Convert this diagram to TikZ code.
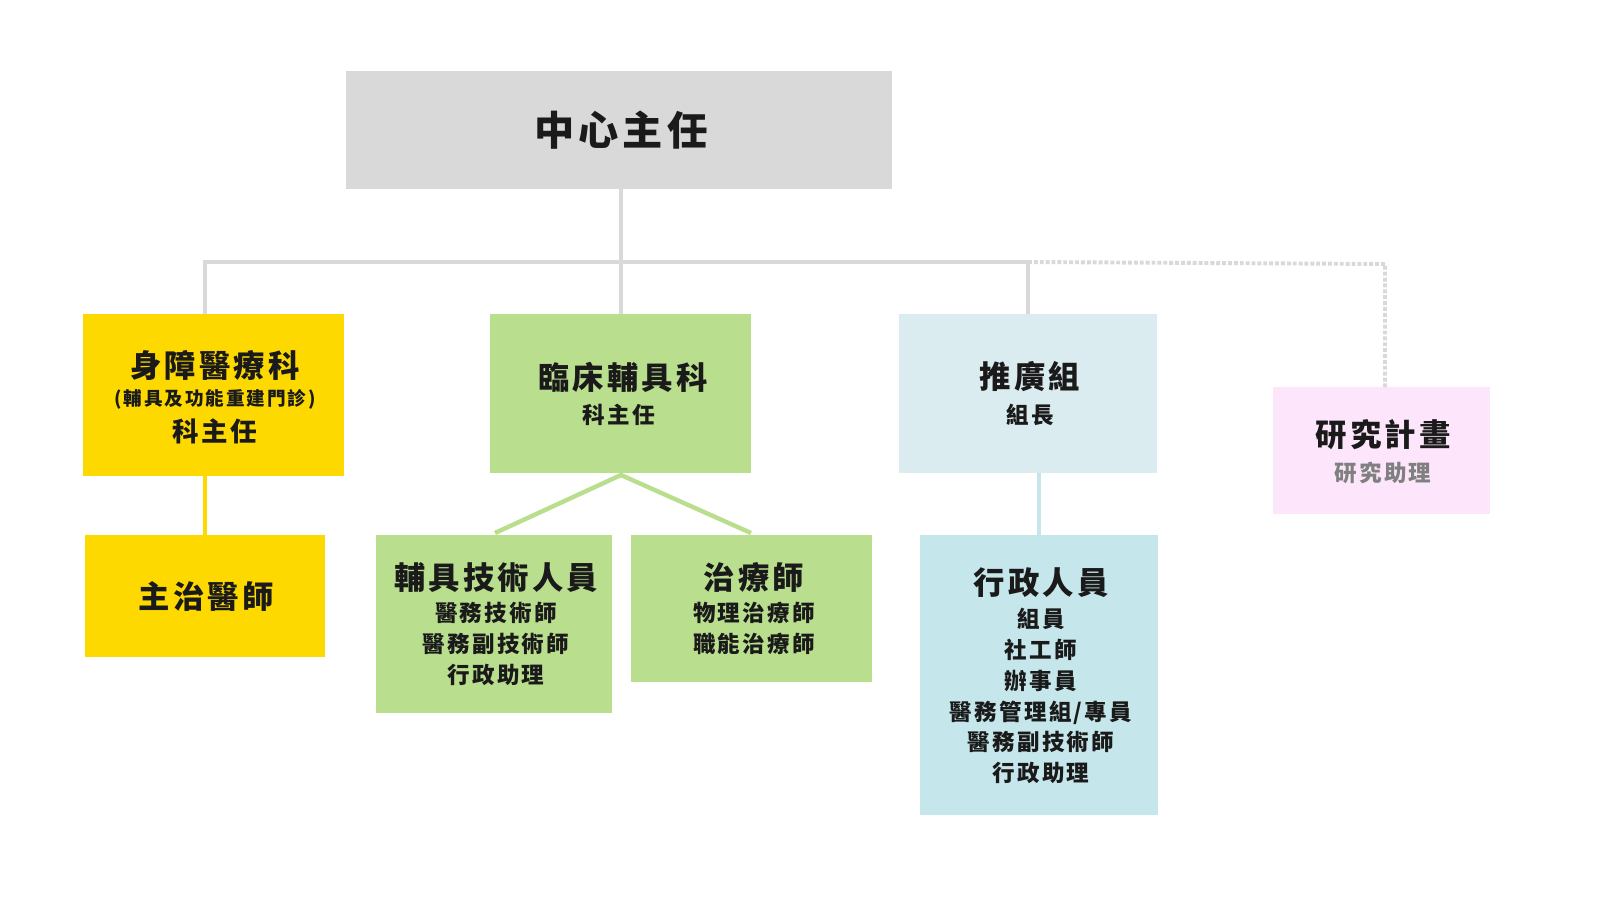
\documentclass[tikz,border=0pt]{standalone}
\usepackage{fontspec}
\setmainfont{Noto Sans CJK TC}[LetterSpace=10]
\definecolor{gr}{HTML}{D9D9D9}
\definecolor{ye}{HTML}{FDD900}
\definecolor{gn}{HTML}{B8DE8E}
\definecolor{lb}{HTML}{DAECEF}
\definecolor{cb}{HTML}{C5E6EA}
\definecolor{pk}{HTML}{FDE6FB}
\definecolor{tx}{HTML}{1A1A1A}
\begin{document}
\begin{tikzpicture}[x=1.02pt,y=-1.02pt,
  hd/.style={font=\fontsize{32}{34}\selectfont\bfseries,text=tx},
  sb/.style={font=\fontsize{23}{31.5}\selectfont\bfseries,text=tx,align=center},
  ln/.style={line width=4.5pt}]
\useasboundingbox (0,0) rectangle (1600,897);
\fill[gr] (346,71) rectangle (892,189);
\node (top) at (621,130) [font=\fontsize{41}{44}\selectfont\bfseries,text=tx] {中心主任};
\coordinate (topb) at (621,189);
\coordinate (hl) at (205,262); \coordinate (hm) at (621,262); \coordinate (hr) at (1028,262);
\coordinate (dr) at (1385,264);
\fill[ye] (83,314) rectangle (344,476);
\fill[ye] (85,535) rectangle (325,657);
\fill[gn] (490,314) rectangle (751,473);
\fill[gn] (376,535) rectangle (612,713);
\fill[gn] (631,535) rectangle (872,682);
\fill[lb] (899,314) rectangle (1157,473);
\fill[cb] (920,535) rectangle (1158,815);
\fill[pk] (1273,387) rectangle (1490,514);
\draw[gr,ln] (topb) -- (hm) -- (621,314);
\draw[gr,ln] (205,314) -- (hl) -- (hr) -- (1028,314);
\draw[gr,dotted,line width=4pt] (hr) -- (dr) -- (1385,387);
\draw[ye,ln] (205,476) -- (205,535);
\draw[gn,ln] (495,533) -- (621,475) -- (751,533);
\draw[cb,ln] (1039,473) -- (1039,535);
\node (a1) at (215,365) [hd] {身障醫療科};
\node (a2) at (215,399) [font=\fontsize{19}{22}\selectfont\bfseries,text=tx] {(輔具及功能重建門診)};
\node (a3) at (215,431) [font=\fontsize{27}{30}\selectfont\bfseries,text=tx] {科主任};
\node (b1) at (206,596) [hd] {主治醫師};
\node (c1) at (623,377) [hd] {臨床輔具科};
\node (c2) at (619,415) [sb] {科主任};
\node (d1) at (496,578) [hd] {輔具技術人員};
\node (d2) at (496,644) [sb] {醫務技術師\\醫務副技術師\\行政助理};
\node (e1) at (754,578) [hd] {治療師};
\node (e2) at (754,628) [sb] {物理治療師\\職能治療師};
\node (f1) at (1030,377) [hd] {推廣組};
\node (f2) at (1030,415) [sb] {組長};
\node (g1) at (1041,583) [hd] {行政人員};
\node (g2) at (1041,696) [sb] {組員\\社工師\\辦事員\\醫務管理組/專員\\醫務副技術師\\行政助理};
\node (h1) at (1383,435) [hd] {研究計畫};
\node (h2) at (1383,473) [sb,text=gray] {研究助理};
\end{tikzpicture}
\end{document}
